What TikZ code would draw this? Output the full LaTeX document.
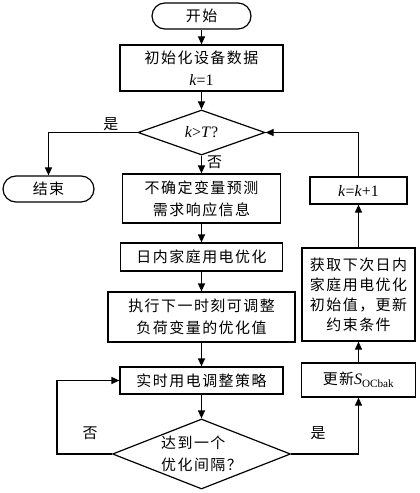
\documentclass[tikz,border=0pt]{standalone}
\usepackage{fontspec}
\setmainfont{Liberation Serif}
\newfontfamily\cjk[LetterSpace=10]{Noto Sans CJK SC}
\usetikzlibrary{shapes.geometric,arrows.meta}
\newcommand{\tx}[1]{{\rmfamily\fontsize{16}{22}\selectfont #1}}

\begin{document}
\begin{tikzpicture}[x=1bp, y=-1bp, line width=1.2bp,
  font=\cjk\fontsize{15}{22}\selectfont,
  >={Triangle[length=8bp,width=7bp]},
  box/.style={draw, inner sep=0pt, align=center},
  term/.style={draw, rounded corners=13bp, minimum height=26bp, inner sep=0pt},
  dec/.style={draw, diamond, inner sep=0pt},
  lbl/.style={inner sep=1bp}
]
\useasboundingbox (0,0) rectangle (419,493);
% main column
\node[term, minimum width=99bp] (start) at (201.5,16) {开始};
\node[box, minimum width=163bp, minimum height=46bp] (init) at (201.5,68) {初始化设备数据\\\tx{\textit{k}=1}};
\node[dec, minimum width=127bp, minimum height=45bp] (chk) at (201.5,132.5) {\tx{\textit{k}>\textit{T}?}};
\node[term, minimum width=91bp] (stop) at (48.5,189) {结束};
\node[box, minimum width=158bp, minimum height=49bp] (pred) at (201.5,198.5) {不确定变量预测\\需求响应信息};
\node[box, minimum width=162bp, minimum height=28bp] (intra) at (201.5,257) {日内家庭用电优化};
\node[box, minimum width=187bp, minimum height=50bp] (exec) at (201.5,317) {执行下一时刻可调整\\负荷变量的优化值};
\node[box, minimum width=163bp, minimum height=27bp] (rt) at (201.5,380.5) {实时用电调整策略};
\node[dec, minimum width=178bp, minimum height=70bp, aspect=2.54, align=left] (gap) at (201.5,454) {达到一个\\优化间隔？};
% right column
\node[box, minimum width=114bp, minimum height=34bp] (soc) at (358.5,380) {更新\tx{\textit{S}\textsubscript{OCbak}}};
\node[box, minimum width=113bp, minimum height=93bp, font=\cjk\fontsize{15}{20}\selectfont] (next) at (358.5,294.5) {获取下次日内\\家庭用电优化\\初始值，更新\\约束条件};
\node[box, minimum width=97bp, minimum height=27bp] (inc) at (358.5,190.5) {\tx{\textit{k}=\textit{k}+1}};
\node[lbl] (no2) at (90,433) {否};
\node[lbl] (yes2) at (318,433) {是};
% connectors
\draw[->] (start) -- (init);
\draw[->] (init) -- (chk);
\draw[->] (chk) -- node[lbl, pos=0.4, right=4bp] {否} (pred);
\draw[->] (chk.west) -| node[lbl, pos=0.15, above] {是} (stop.north);
\draw[->] (pred) -- (intra);
\draw[->] (intra) -- (exec);
\draw[->] (exec) -- (rt);
\draw[->] (rt) -- (gap);
\draw[->] (gap.west) -- ++(-55,0) |- (rt.west);
\draw[->] (gap.east) -| (soc.south);
\draw[->] (soc) -- (next);
\draw[->] (next) -- (inc);
\draw[->] (inc.north) |- (chk.east);
\end{tikzpicture}
\end{document}
